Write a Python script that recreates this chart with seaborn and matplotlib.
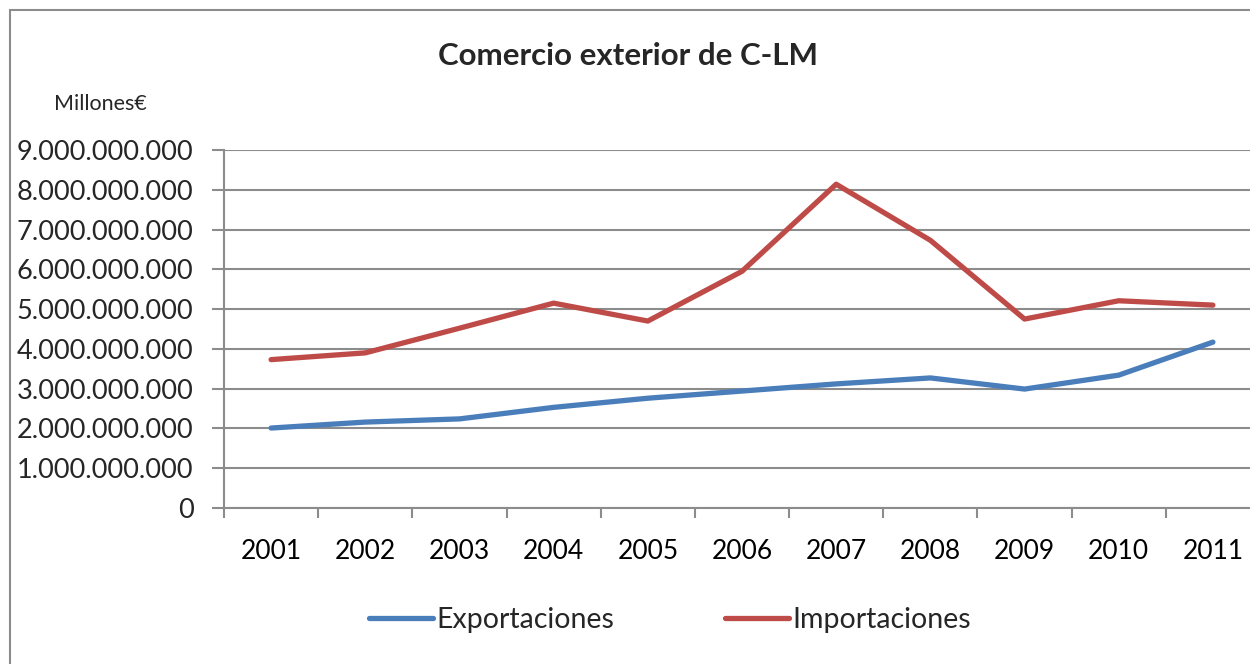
import pandas as pd
import numpy as np
import matplotlib.pyplot as plt
import seaborn as sns
from matplotlib.patches import Rectangle
from matplotlib.ticker import FuncFormatter, FixedLocator

# Datos (euros)
years = ["2001", "2002", "2003", "2004", "2005", "2006",
         "2007", "2008", "2009", "2010", "2011"]
exportaciones = [2.01e9, 2.16e9, 2.24e9, 2.53e9, 2.76e9, 2.94e9,
                 3.12e9, 3.27e9, 2.99e9, 3.34e9, 4.17e9]
importaciones = [3.73e9, 3.90e9, 4.52e9, 5.15e9, 4.70e9, 5.95e9,
                 8.14e9, 6.73e9, 4.75e9, 5.21e9, 5.10e9]
series_names = ["Exportaciones", "Importaciones"]
y_ticks = [0, 1e9, 2e9, 3e9, 4e9, 5e9, 6e9, 7e9, 8e9, 9e9]

df = pd.DataFrame({
    "year": years * 2,
    "valor": exportaciones + importaciones,
    "serie": [series_names[0]] * len(years) + [series_names[1]] * len(years),
})

sns.set_theme(style="white")
plt.rcParams['font.family'] = ['Lato', 'DejaVu Sans']

fig = plt.figure(figsize=(12.5, 6.64), dpi=100)
ax = fig.add_axes([224 / 1250, (664 - 508) / 664, 1036 / 1250, 358 / 664])

palette = {"Exportaciones": "#4A7EBB", "Importaciones": "#BE4B48"}
sns.lineplot(data=df, x="year", y="valor", hue="serie", palette=palette,
             linewidth=3.8, ax=ax, sort=False)

grid_col = "#8C8C8C"
ax.set_ylim(0, 9e9)
ax.set_xlim(-0.5, len(years) - 0.5)
ax.yaxis.set_major_locator(FixedLocator(y_ticks))
ax.yaxis.set_major_formatter(FuncFormatter(lambda v, p: f"{int(v):,}".replace(",", ".")))
ax.grid(axis="y", color=grid_col, linewidth=1.5)
ax.set_axisbelow(True)

# ticks entre categorias
ax.set_xticks(range(len(years)))
ax.set_xticklabels(years)
ax.set_xticks(np.arange(-0.5, len(years), 1.0), minor=True)
ax.tick_params(axis="x", which="major", length=0, pad=22, labelsize=19, colors="black")
ax.tick_params(axis="x", which="minor", length=7, width=1.5, color=grid_col, bottom=True)
ax.tick_params(axis="y", length=9, width=1.5, color=grid_col, left=True, labelsize=19.5, pad=13)

for side in ["top", "right"]:
    ax.spines[side].set_visible(False)
for side in ["left", "bottom"]:
    ax.spines[side].set_color(grid_col)
    ax.spines[side].set_linewidth(1.5)

ax.set_xlabel("")
ax.set_ylabel("")

fig.text(628 / 1250, 1 - 56 / 664, "Comercio exterior de C-LM", ha="center", va="center",
         fontsize=22.5, fontweight="bold")
fig.text(54 / 1250, 1 - 104 / 664, "Millones€", ha="left", va="center", fontsize=15.5)

handles, labels = ax.get_legend_handles_labels()
ax.legend(handles, labels, loc="center", bbox_to_anchor=(670 / 1250, 1 - 620 / 664),
          bbox_transform=fig.transFigure, ncol=2, frameon=False, fontsize=20.5,
          handlelength=2.25, handletextpad=0.1, columnspacing=3.9)

# marco del grafico
fig.patches.append(Rectangle((10 / 1250, -0.1), 1.2, 1 - 10 / 664 + 0.1,
                             transform=fig.transFigure, fill=False,
                             edgecolor="#8C8C8C", linewidth=1.5))

fig.savefig("out.png", dpi=100)
